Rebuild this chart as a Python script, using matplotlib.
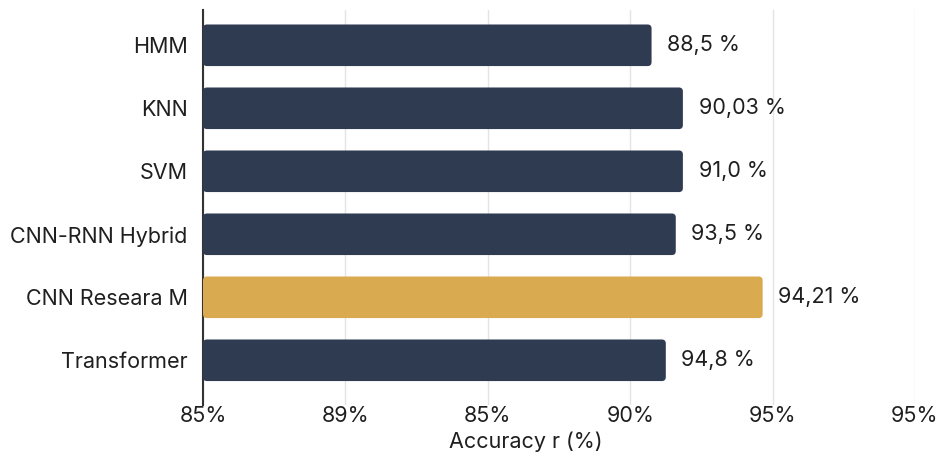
import matplotlib
matplotlib.use("Agg")
import matplotlib.pyplot as plt
from matplotlib.patches import FancyBboxPatch

plt.rcParams['font.family'] = ['Inter', 'DejaVu Sans']

# data (bar lengths are read in tick-index units of the x axis)
models = ['HMM', 'KNN', 'SVM', 'CNN-RNN Hybrid', 'CNN Researa M', 'Transformer']
bar_ends = [3.15, 3.37, 3.37, 3.32, 3.93, 3.25]
value_labels = ['88,5 %', '90,03 %', '91,0 %', '93,5 %', '94,21 %', '94,8 %']
tick_labels = ['85%', '89%', '85%', '90%', '95%', '95%']
highlight = 'CNN Researa M'

navy = '#2f3b51'
gold = '#d9aa50'
text_col = '#1f1f1f'
fs = 15.5

fig = plt.figure(figsize=(9.43, 4.57), dpi=100)
ax = fig.add_axes([203/943, 52/457, 712/943, 395/457])

ypos = list(range(len(models)))
colors = [gold if m == highlight else navy for m in models]
bars = ax.barh(ypos, bar_ends, height=0.66, color=colors)

# swap the plain rectangles for slightly rounded ones
for rect, c in zip(bars, colors):
    x0, y0 = rect.get_xy()
    fb = FancyBboxPatch((x0, y0), rect.get_width(), rect.get_height(),
                        boxstyle="round,pad=0,rounding_size=0.028",
                        mutation_aspect=2.26, facecolor=c, edgecolor='none', zorder=3)
    rect.set_visible(False)
    ax.add_patch(fb)

for y, v, lab in zip(ypos, bar_ends, value_labels):
    ax.text(v + 0.11, y, lab, va='center', ha='left', fontsize=fs, color=text_col)

ax.set_xlim(0, 5)
ax.set_ylim(5.71, -0.56)
ax.set_xticks(range(len(tick_labels)))
ax.set_xticklabels(tick_labels, fontsize=fs, color=text_col)
ax.set_yticks(ypos)
ax.set_yticklabels(models, fontsize=fs, color=text_col)
ax.tick_params(axis='x', length=0, pad=1)
ax.tick_params(axis='y', length=0, pad=11)

ax.grid(axis='x', color='#e4e4e4', linewidth=1, zorder=0)
ax.set_axisbelow(True)
for s in ['top', 'right', 'bottom']:
    ax.spines[s].set_visible(False)
ax.spines['left'].set_color('#333333')
ax.spines['left'].set_linewidth(1.5)

fig.text(526/943, 15/457, 'Accuracy r (%)', ha='center', va='center',
         fontsize=fs, color=text_col)

fig.savefig('out.png', dpi=100, facecolor='white')
